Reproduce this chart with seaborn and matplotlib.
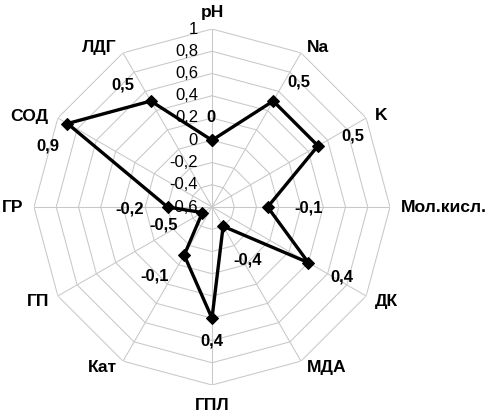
import numpy as np
import pandas as pd
import matplotlib
matplotlib.use("Agg")
import matplotlib.pyplot as plt
import seaborn as sns

# ---- data ----
categories = ["pH", "Na", "K", "Мол.кисл.", "ДК", "МДА", "ГПЛ", "Кат", "ГП", "ГР", "СОД", "ЛДГ"]
values = [0.0, 0.5, 0.5, -0.1, 0.4, -0.4, 0.4, -0.1, -0.5, -0.2, 0.9, 0.5]
value_labels = ["0", "0,5", "0,5", "-0,1", "0,4", "-0,4", "0,4", "-0,1", "-0,5", "-0,2", "0,9", "0,5"]
ticks = [-0.6, -0.4, -0.2, 0.0, 0.2, 0.4, 0.6, 0.8, 1.0]
tick_labels = ["-0,6", "-0,4", "-0,2", "0", "0,2", "0,4", "0,6", "0,8", "1"]

# label offsets (pixels, x right / y down) for value labels
value_label_offsets = [(-1, -23), (26, -19), (35, -10), (41, 1), (34, 14), (25, 34),
                       (0, 23), (-30, 21), (-39, 12), (-38, 2), (-20, 22), (-28, -16)]

sns.set_theme(style="white")
plt.rcParams["font.family"] = ["Liberation Sans", "DejaVu Sans"]

W, H = 487, 412
fig = plt.figure(figsize=(W / 100, H / 100), dpi=100)
cx, cy, R = 212, 207, 178
ax = fig.add_axes([(cx - R) / W, (H - cy - R) / H, 2 * R / W, 2 * R / H], projection="polar")
ax.set_theta_zero_location("N")
ax.set_theta_direction(-1)
ax.set_ylim(ticks[0], ticks[-1])
ax.grid(False)
ax.set_xticks([])
ax.set_yticks([])
ax.spines["polar"].set_visible(False)
ax.patch.set_alpha(0)

n = len(categories)
theta = np.arange(n) * 2 * np.pi / n
theta_closed = np.append(theta, theta[0])

grid_color = "#c8c8c8"
for t in ticks[1:]:
    ax.plot(theta_closed, [t] * (n + 1), color=grid_color, lw=0.75, zorder=1)
for th in theta:
    ax.plot([th, th], [ticks[0], ticks[-1]], color=grid_color, lw=0.75, zorder=1)

df = pd.DataFrame({"theta": theta_closed, "value": values + [values[0]]})
sns.lineplot(data=df, x="theta", y="value", sort=False, estimator=None, ax=ax,
             color="black", lw=2.4, marker="D", markersize=6, markeredgecolor="black", zorder=3)
ax.set_xlabel("")
ax.set_ylabel("")
ax.set_ylim(ticks[0], ticks[-1])

px = 72 / 100  # pixels -> points

# tick labels along pH axis
for t, lab in zip(ticks, tick_labels):
    ax.annotate(lab, xy=(0, t), xytext=(-14 * px, 0), textcoords="offset points",
                ha="right", va="center", fontsize=12, color="black", zorder=2)

# value labels
for th, v, lab, (dx, dy) in zip(theta, values, value_labels, value_label_offsets):
    ax.annotate(lab, xy=(th, v), xytext=(dx * px, -dy * px), textcoords="offset points",
                ha="center", va="center", fontsize=12, fontweight="bold", color="black", zorder=4)

# category labels
for th, cat in zip(theta, categories):
    deg = np.degrees(th) % 360
    s, c = np.sin(th), np.cos(th)
    if deg == 0:
        ha, va, dx, dy = "center", "bottom", 0, 9
    elif deg == 180:
        ha, va, dx, dy = "center", "top", 0, -13
    else:
        ha = "left" if s > 0 else "right"
        sign = 1 if s > 0 else -1
        if abs(deg - 90) < 1 or abs(deg - 270) < 1:
            va, dx, dy = "center", 11 * sign, 0
        elif c > 0.7:
            va, dx, dy = "bottom", 6 * sign, -2
        elif c > 0:
            va, dx, dy = "center", 9 * sign, 2
        elif c > -0.7:
            va, dx, dy = "top", 9 * sign, 2
        else:
            va, dx, dy = "top", 6 * sign, 1
    ax.annotate(cat, xy=(th, ticks[-1]), xytext=(dx * px, dy * px), textcoords="offset points",
                ha=ha, va=va, fontsize=12.6, fontweight="bold", color="black", annotation_clip=False)

fig.savefig("out.png", dpi=100, facecolor="white")
